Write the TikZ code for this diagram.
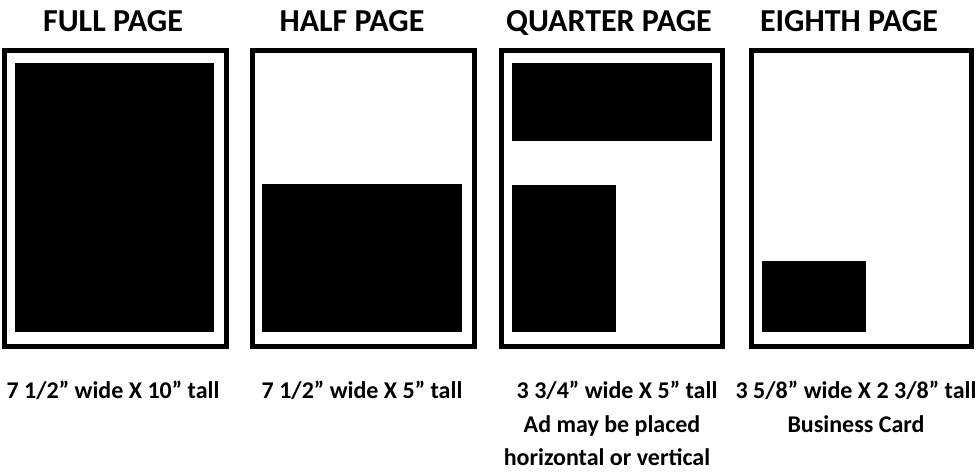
\documentclass[tikz,border=0pt]{standalone}
\usepackage{fontspec}
\setmainfont{Carlito}
\usepackage{tikz}

\begin{document}
\begin{tikzpicture}[x=1pt, y=-1pt,
  frame/.style = {draw=black, line width=5pt},
  ad/.style    = {fill=black},
  title/.style = {anchor=base, inner sep=0pt, font=\fontsize{32}{38}\selectfont\bfseries},
  size/.style  = {anchor=base, inner sep=0pt, font=\fontsize{24}{29}\selectfont\bfseries}
]
  \useasboundingbox (0,0) rectangle (979,471);

  % ---- Titles ----
  \node[title] at (113, 31) (tfull)    {FULL PAGE};
  \node[title] at (352, 31) (thalf)    {HALF PAGE};
  \node[title] at (609, 31) (tquarter) {QUARTER PAGE};
  \node[title] at (849, 31) (teighth)  {EIGHTH PAGE};

  % ---- Page frames ----
  \draw[frame] (4.5,50.5)   rectangle (226.5,346.5);
  \draw[frame] (252.5,50.5) rectangle (474.5,346.5);
  \draw[frame] (501.5,50.5) rectangle (722.5,346.5);
  \draw[frame] (751.5,50.5) rectangle (971.5,346.5);

  % ---- Ad areas ----
  \fill[ad] (14.5,63) rectangle (214,332);
  \fill[ad] (262,184) rectangle (462,332);
  \fill[ad] (512,63)  rectangle (712,141);
  \fill[ad] (512,185) rectangle (616,332);
  \fill[ad] (762,261) rectangle (866,332);

  % ---- Sizes ----
  \node[size] at (113, 398) (sfull)     {7 1/2” wide X 10” tall};
  \node[size] at (362, 398) (shalf)     {7 1/2” wide X 5” tall};
  \node[size] at (617, 398) (squarter)  {3 3/4” wide X 5” tall};
  \node[size] at (612, 432) (nquarter)  {Ad may be placed};
  \node[size] at (607, 465) (nquarter2) {horizontal or vertical};
  \node[size] at (856, 398) (seighth)   {3 5/8” wide X 2 3/8” tall};
  \node[size] at (856, 432) (neighth)   {Business Card};
\end{tikzpicture}
\end{document}
